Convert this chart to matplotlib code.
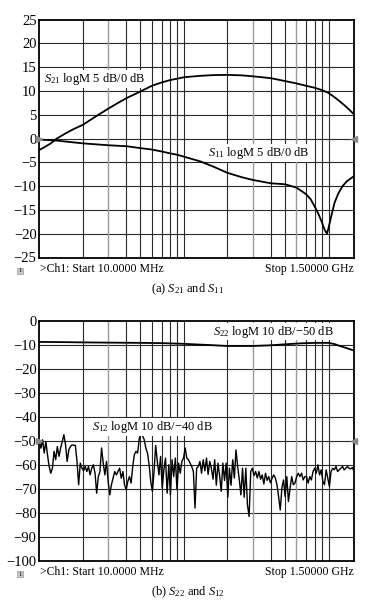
import numpy as np
import matplotlib
matplotlib.use('Agg')
import matplotlib.pyplot as plt

plt.rcParams['font.family'] = ['Liberation Serif', 'DejaVu Serif']
plt.rcParams['mathtext.fontset'] = 'custom'
plt.rcParams['mathtext.rm'] = 'Liberation Serif'
plt.rcParams['mathtext.it'] = 'Liberation Serif:italic'

#%% data read off the VNA screens (frequency in MHz, level in dB)
f_s21 = [10, 11, 12, 13.2, 15, 17, 20, 25, 30, 35, 40, 50, 60, 70, 80, 90, 100, 130, 160,
         200, 250, 300, 400, 500, 600, 700, 800, 900, 1000, 1100, 1200, 1300, 1400, 1500]
s21 = [-2.4, -1.7, -1.0, 0.0, 1.0, 1.9, 2.9, 4.8, 6.3, 7.5, 8.5, 9.9, 11.1, 11.8, 12.3, 12.6, 12.9, 13.2, 13.35,
       13.4, 13.3, 13.1, 12.7, 12.1, 11.6, 11.1, 10.7, 10.2, 9.6, 8.7, 7.8, 6.9, 6.0, 5.1]

f_s11 = [10, 13, 20, 30, 40, 50, 60, 70, 80, 90, 100, 130, 160, 200, 250, 300, 400, 500,
         600, 700, 750, 800, 850, 900, 940, 975, 1000, 1050, 1100, 1170, 1250, 1336, 1420, 1500]
s11 = [-0.2, -0.4, -1.0, -1.4, -1.6, -2.0, -2.3, -2.7, -3.1, -3.4, -3.8, -4.8, -5.9, -7.2, -8.1, -8.7, -9.4, -9.6,
       -10.3, -11.7, -12.7, -14.2, -15.8, -17.6, -19.2, -20.0, -18.8, -16.0, -13.5, -11.5, -10.0, -9.0, -8.4, -7.9]

f_s22 = [10, 15, 20, 30, 50, 70, 100, 150, 200, 300, 400, 500, 600, 700, 850, 1000, 1100, 1200, 1336, 1500]
s22 = [-8.9, -9.0, -9.1, -9.2, -9.3, -9.4, -9.7, -10.2, -10.6, -10.6, -10.3, -9.9, -9.6, -9.4, -9.3, -9.3,
       -9.8, -10.6, -11.5, -12.5]

# S12 trace, one value per sweep point (log sweep 10 MHz .. 1.5 GHz)
s12 = [-50, -53.1, -49.6, -55.1, -50.3, -55.8, -60.7, -63.5, -61.4, -54.4, -57.9, -52.4, -56.5, -53.1,
       -50.3, -47.5, -51.7, -58.6, -53.8, -52.4, -51.7, -51.9, -51.9, -58.6, -68.3, -59.3, -61.4, -62.5,
       -60.7, -62.8, -60.7, -64.2, -61.4, -60, -63.5, -71.8, -64.9, -62.8, -53.0, -59.3, -64.2, -58.6,
       -66.9, -72.5, -68.3, -65.6, -62.8, -64.2, -62.8, -61.4,
       -65.6, -62.8, -68.3, -70.4, -66.9, -64.9, -67.6, -60.7, -55.8, -54.4, -55.1, -49.0, -47.0, -48.0,
       -49.5, -53.1, -55.1, -60, -66.9, -71.1, -62.8, -52.0, -58.6, -64.2, -56.5, -69.7, -62.1, -57.2,
       -71.8, -60, -72.5, -57.9, -64.9, -57.2, -70.4, -59.3, -63.5, -58.6, -57.2, -53.0, -57.2, -57.9,
       -59.3, -60.7, -62.8, -78.0, -61.4,
       -60.7, -58.6, -63.5, -57.9, -62.5, -57.2, -64.0, -58.6, -61.5, -66.0, -57.9, -68.5, -59.3, -64.5,
       -71.0, -59.3, -66.5, -59.3, -73.5, -61.4, -68.5, -57.9, -65.5, -53.8, -60.7, -66.0, -72.5, -61.4,
       -73.5, -61.4, -76.7, -81.5, -62.8, -61.4, -64.5, -62.8, -65.5, -62.8, -66.0, -64.2, -68.0, -63.5,
       -66.5, -64.9, -67.5, -65.6, -64.2, -65.5,
       -68.3, -73.2, -78.8, -69.7, -66.3, -73.2, -64.9, -75.3, -69.7, -64.9, -68.3, -67.6, -64.9, -63.5,
       -64.9, -63.5, -66.3, -64.9, -64.9, -67.6, -64.9, -66.3, -62.8, -61.4, -63.5, -60, -64.2, -62.1,
       -66.9, -68.3, -62.1, -65.6, -69, -62.8, -61.4, -62.1, -60.7, -62.8, -62.1, -61.4, -60.7, -62.1,
       -61.4, -60.7, -61.4, -61.7, -61.1, -62.8]
f_s12 = np.geomspace(10, 1500, len(s12))

x_grid = list(range(10, 100, 10)) + list(range(100, 1100, 100))
gray_lines = [30, 300, 600]

#%% figure
W, H = 371, 611
fig = plt.figure(figsize=(W / 100, H / 100), dpi=100)
fig.patch.set_facecolor('white')

def px_axes(x0, y0, x1, y1):
    return fig.add_axes([x0 / W, 1 - y1 / H, (x1 - x0) / W, (y1 - y0) / H])

def setup(ax, ylim, step):
    ax.set_xscale('log')
    ax.set_xlim(10, 1500)
    ax.set_ylim(*ylim)
    ax.set_yticks(np.arange(ylim[0], ylim[1] + 1, step))
    ax.set_xticks([])
    ax.set_xticks([], minor=True)
    for v in np.arange(ylim[0] + step, ylim[1], step):
        ax.axhline(v, color='#2a2a2a', lw=0.8, zorder=1)
    for f in x_grid:
        if f == 10:
            continue
        c = '#9a9a9a' if f in gray_lines else '#2a2a2a'
        ax.axvline(f, color=c, lw=1.0 if f in gray_lines else 0.8, zorder=1)
    ax.tick_params(axis='y', length=0, pad=2, labelsize=10.5)
    for s in ax.spines.values():
        s.set_linewidth(1.3)

def footer(y, caption):
    fig.text(20 / W, 1 - (y + 2) / H, '1', fontsize=5, ha='center', va='center',
             bbox=dict(boxstyle='square,pad=0.12', fc='#c8c8c8', ec='#9a9a9a', lw=0.5))
    fig.text(40 / W, 1 - y / H, '>Ch1: Start 10.0000 MHz', fontsize=8.5, ha='left', va='center')
    fig.text(354 / W, 1 - y / H, 'Stop 1.50000 GHz', fontsize=8.5, ha='right', va='center')
    fig.text(188 / W, 1 - (y + 20) / H, caption, fontsize=9, ha='center', va='center')

def ref_marks(ax, level):
    ax.plot([10], [level], marker='>', color='#8a8a8a', ms=4, clip_on=False, zorder=5)
    ax.plot([1500], [level], marker='<', color='#8a8a8a', ms=4, clip_on=False, zorder=5)

lbl_box = dict(fc='white', ec='none', pad=0.5)

# (a) S21 and S11
ax1 = px_axes(39.3, 19.7, 354, 257.5)
setup(ax1, (-25, 25), 5)
ax1.plot(f_s21, s21, color='k', lw=1.3, zorder=3)
ax1.plot(f_s11, s11, color='k', lw=1.3, zorder=3)
ref_marks(ax1, 0)
ax1.text(10.8, 12.5, r'$S_{21}$ logM 5 dB/0 dB', fontsize=9, ha='left', va='center', bbox=lbl_box, zorder=4)
ax1.text(147, -3.0, r'$S_{11}$ logM 5 dB/0 dB', fontsize=9, ha='left', va='center', bbox=lbl_box, zorder=4)
footer(269, r'(a) $S_{21}$ and $S_{11}$')

# (b) S22 and S12
ax2 = px_axes(39.3, 320.5, 354, 561)
setup(ax2, (-100, 0), 10)
ax2.plot(f_s22, s22, color='k', lw=1.3, zorder=3)
ax2.plot(f_s12, s12, color='k', lw=1.0, zorder=3)
ref_marks(ax2, -50)
ax2.text(159, -4.6, r'$S_{22}$ logM 10 dB/−50 dB', fontsize=9, ha='left', va='center', bbox=lbl_box, zorder=4)
ax2.text(23, -44.2, r'$S_{12}$ logM 10 dB/−40 dB', fontsize=9, ha='left', va='center', bbox=lbl_box, zorder=4)
footer(572, r'(b) $S_{22}$ and $S_{12}$')

fig.savefig('out.png', dpi=100, facecolor='white')
